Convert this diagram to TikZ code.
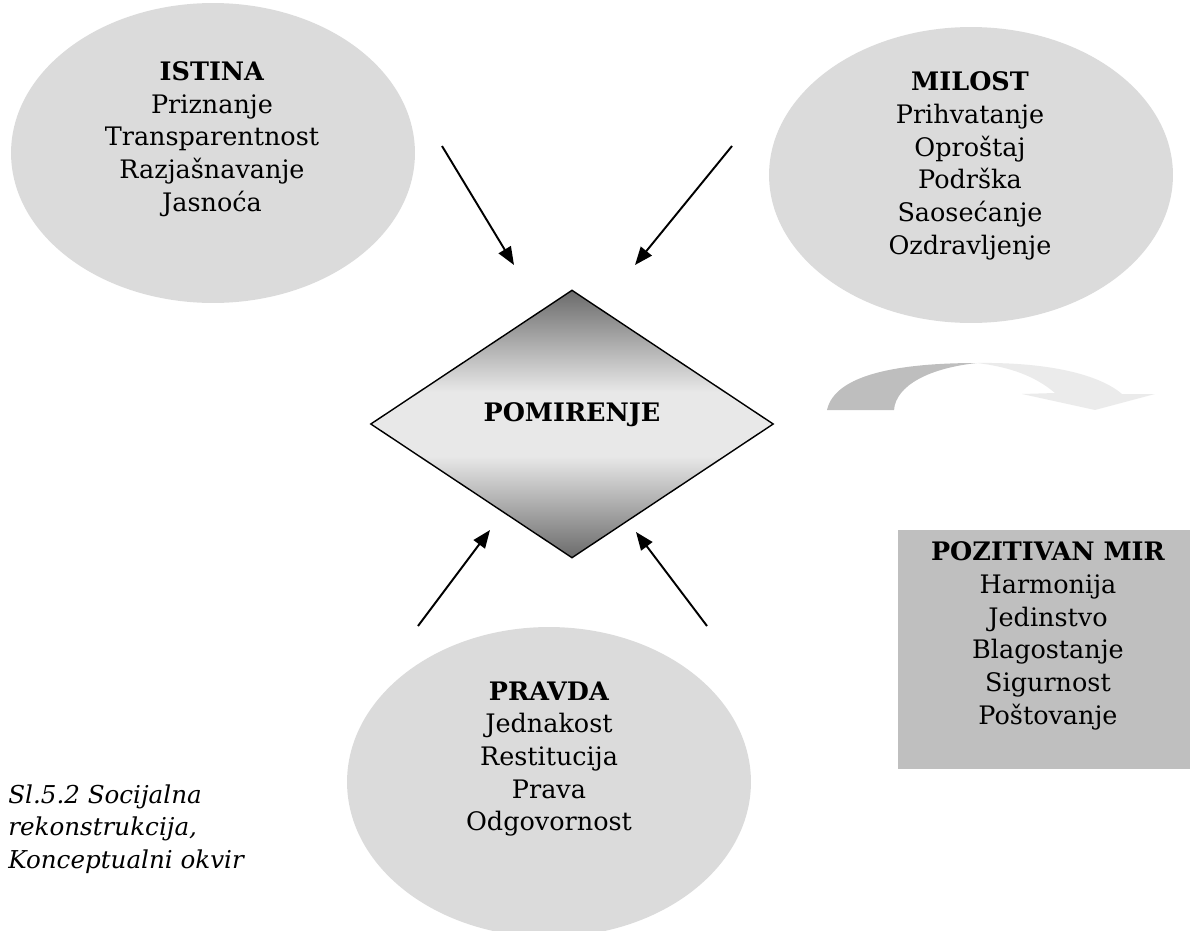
\documentclass[tikz,border=0pt]{standalone}
\usepackage{fontspec}
\setmainfont{DejaVu Serif}
\usetikzlibrary{shapes.geometric,arrows.meta}
\definecolor{ellgray}{gray}{0.86}
\definecolor{boxgray}{gray}{0.75}
\definecolor{diadark}{gray}{0.42}
\definecolor{dialight}{gray}{0.91}
\definecolor{bowdark}{gray}{0.745}
\definecolor{bowlight}{gray}{0.92}
\pgfdeclareverticalshading{diashade}{100bp}{color(0bp)=(diadark); color(25bp)=(diadark); color(44bp)=(dialight); color(56bp)=(dialight); color(75bp)=(diadark); color(100bp)=(diadark)}
\tikzset{
	oval/.style 2 args={ellipse,fill=ellgray,inner sep=0pt,minimum width=#1,minimum height=#2},
	txt/.style={align=center,inner sep=0pt,font=\fontsize{14.5}{18.6}\selectfont},
	arr/.style={line width=1.1pt,-{Triangle[length=3.6mm,width=2.8mm]}}
}
\begin{document}
\begin{tikzpicture}[x=0.02cm,y=-0.02cm]
	\useasboundingbox (0,0) rectangle (1190,930);

	% the three ovals
	\node [oval={8.08cm}{6cm}] (istina) at (213,153) {};
	\node [txt] (istinatxt) at (212,139) {\textbf{ISTINA}\\Priznanje\\Transparentnost\\Razjašnavanje\\Jasnoća};

	\node [oval={8.08cm}{5.92cm}] (milost) at (971,175) {};
	\node [txt] (milosttxt) at (970,166) {\textbf{MILOST}\\Prihvatanje\\Oproštaj\\Podrška\\Saosećanje\\Ozdravljenje};

	\node [oval={8.08cm}{6.2cm}] (pravda) at (549,782) {};
	\node [txt] (pravdatxt) at (549,759) {\textbf{PRAVDA}\\Jednakost\\Restitucija\\Prava\\Odgovornost};

	% centre
	\node [diamond,draw,line width=0.8pt,inner sep=0pt,aspect=1.5,
		minimum width=8.06cm,minimum height=5.36cm,shading=diashade] (pomirenje) at (572,424) {};
	\node [txt] (pomtxt) at (572,415) {\textbf{POMIRENJE}};

	% result box
	\node [fill=boxgray,inner sep=0pt,minimum width=5.84cm,minimum height=4.78cm] (mir) at (1044,649.5) {};
	\node [txt] (mirtxt) at (1048,636) {\textbf{POZITIVAN MIR}\\Harmonija\\Jedinstvo\\Blagostanje\\Sigurnost\\Poštovanje};

	% arrows
	\coordinate (ia) at (442,146);
	\coordinate (ib) at (514,265);
	\coordinate (ma) at (732,146);
	\coordinate (mb) at (635,265);
	\coordinate (pa) at (418,626);
	\coordinate (pb) at (490,530);
	\coordinate (qa) at (707,626);
	\coordinate (qb) at (636,532);
	\draw [arr] (ia) -- (ib);
	\draw [arr] (ma) -- (mb);
	\draw [arr] (pa) -- (pb);
	\draw [arr] (qa) -- (qb);

	% curved arrow
	\coordinate (top) at (977,363);
	\fill [bowdark] (827,410) .. controls (835,374) and (900,363) .. (top)
		.. controls (930,368) and (896,385) .. (894,410) -- cycle;
	\fill [bowlight] (top) .. controls (1050,362) and (1100,375) .. (1122,394)
		-- (1155,394) -- (1095,410) -- (1022,394) -- (1055,393)
		.. controls (1035,376) and (1010,367) .. (top);

	% caption
	\node [txt,anchor=west,align=left,font=\fontsize{14}{18.5}\selectfont\itshape] (caption) at (8,829) {Sl.5.2 Socijalna\\rekonstrukcija,\\Konceptualni okvir};
\end{tikzpicture}
\end{document}
